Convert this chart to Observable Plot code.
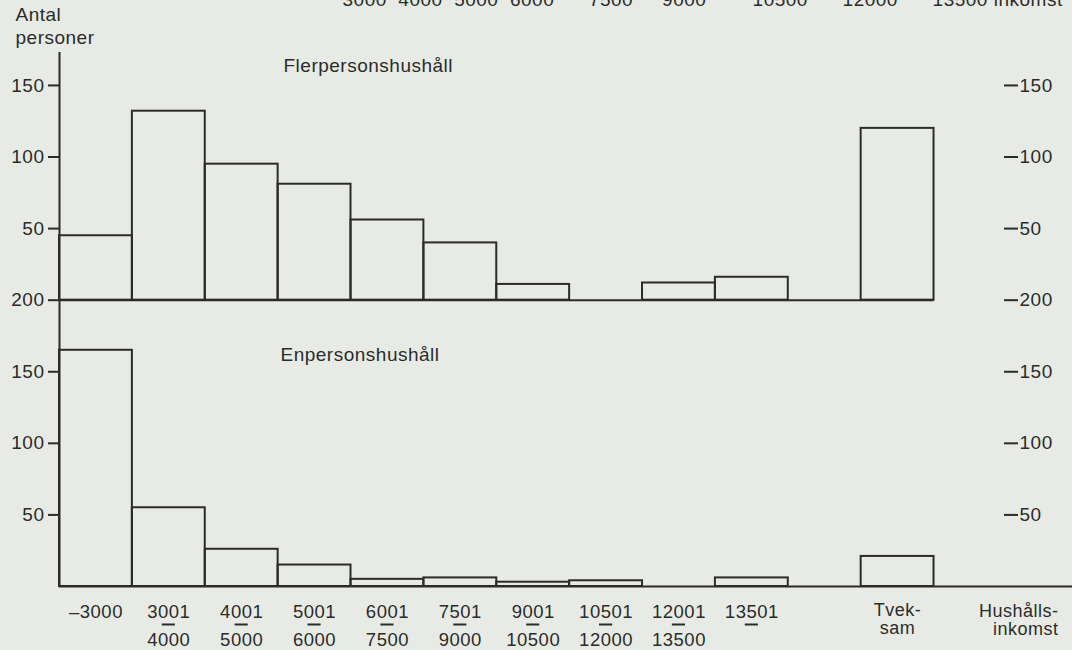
<!DOCTYPE html>
<html>
<head>
<meta charset="utf-8">
<script src="https://cdn.jsdelivr.net/npm/d3@7"></script>
<script src="https://cdn.jsdelivr.net/npm/@observablehq/plot@0.6"></script>
<style>
  html, body { margin: 0; padding: 0; background: #e8ebe5; }
  #chart { width: 1072px; height: 650px; overflow: hidden; }
  #chart svg { display: block; }
  #chart svg text { letter-spacing: 0.5px; }
</style>
</head>
<body>
<div id="chart"></div>
<script>
// ---- data ----
const incomeFrom = ["\u20133000", "3001", "4001", "5001", "6001", "7501", "9001", "10501", "12001", "13501"];
const incomeTo   = ["", "4000", "5000", "6000", "7500", "9000", "10500", "12000", "13500", ""];
const flerpersonshushall = [45, 132, 95, 81, 56, 40, 11, 0, 12, 16];
const enpersonshushall   = [165, 55, 26, 15, 5, 6, 3, 4, 0, 6];
const tveksamLabel = "Tvek-\nsam";
const tveksamFler = 120;
const tveksamEn = 21;
const bottomTicks = [50, 100, 150, 200];
const topTicks = [50, 100, 150];
const ghostText = "3000\u00a0\u00a04000\u00a0\u00a05000\u00a0\u00a06000\u00a0\u00a0\u00a0\u00a0\u00a0\u00a07500\u00a0\u00a0\u00a0\u00a0\u00a09000\u00a0\u00a0\u00a0\u00a0\u00a0\u00a0\u00a0\u00a010500\u00a0\u00a0\u00a0\u00a0\u00a0\u00a012000\u00a0\u00a0\u00a0\u00a0\u00a0\u00a013500 inkomst";

// ---- layout derived from data ----
const panelBase = 200;               // zero of the upper panel = 200 of the lower panel
const yMax = 373;
const tvSlot = incomeFrom.length + 1; // one empty slot before "Tveksam"
const ink = "#2b2b2b";

const slots = incomeFrom.map((from, i) => ({
  slot: i, from, to: incomeTo[i], fler: flerpersonshushall[i], en: enpersonshushall[i]
}));

const bars = [];
slots.forEach(d => {
  if (d.en > 0) bars.push({x1: d.slot, x2: d.slot + 1, y1: 0, y2: d.en});
  if (d.fler > 0) bars.push({x1: d.slot, x2: d.slot + 1, y1: panelBase, y2: panelBase + d.fler});
});
bars.push({x1: tvSlot, x2: tvSlot + 1, y1: 0, y2: tveksamEn});
bars.push({x1: tvSlot, x2: tvSlot + 1, y1: panelBase, y2: panelBase + tveksamFler});

const tickValues = bottomTicks.concat(topTicks.map(t => t + panelBase));
const fmt = d => String(d > panelBase ? d - panelBase : d);

const chart = Plot.plot({
  width: 1072,
  height: 650,
  marginLeft: 59,
  marginRight: 0,
  marginTop: 52,
  marginBottom: 64,
  x: {domain: [0, 13.9], axis: null},
  y: {domain: [0, yMax], axis: null},
  style: {background: "transparent", color: ink, fontFamily: "'Liberation Sans', Arial, sans-serif", fontSize: "18px"},
  marks: [
    // ghost text at the top edge of the scanned page
    Plot.text([ghostText], {frameAnchor: "top-left", textAnchor: "start", lineAnchor: "bottom", dx: 283, dy: -47, fontSize: 19, text: d => d}),
    // y-axis title
    Plot.text(["Antal\npersoner"], {frameAnchor: "top-left", textAnchor: "start", lineAnchor: "bottom", dx: -44, dy: -9, lineHeight: 1.17, fontSize: 19, text: d => d}),
    // panel titles
    Plot.text(["Flerpersonshushåll"], {frameAnchor: "top-left", textAnchor: "start", lineAnchor: "bottom", dx: 224, dy: 19, fontSize: 19, text: d => d}),
    Plot.text(["Enpersonshushåll"], {frameAnchor: "top-left", textAnchor: "start", lineAnchor: "bottom", dx: 221, dy: 308, fontSize: 19, text: d => d}),
    // bars
    Plot.rect(bars, {x1: "x1", x2: "x2", y1: "y1", y2: "y2", fill: "none", stroke: ink, strokeWidth: 2}),
    // baselines and left axis line
    Plot.ruleY([0], {stroke: ink, strokeWidth: 2}),
    Plot.ruleY([panelBase], {x1: 0, x2: tvSlot + 1, stroke: ink, strokeWidth: 2}),
    Plot.ruleX([0], {y1: 0, y2: yMax, stroke: ink, strokeWidth: 2}),
    // left axis
    Plot.axisY(tickValues, {anchor: "left", tickSize: 11, tickPadding: 4, tickFormat: fmt, fontSize: 19, strokeWidth: 2}),
    // right axis (dash + number)
    Plot.axisY(tickValues, {anchor: "right", dx: -69, tickSize: 14, tickPadding: 2, tickFormat: fmt, fontSize: 19, strokeWidth: 2}),
    // x labels: "from", short bar, "to"
    Plot.text(slots, {x: d => d.slot + 0.5, y: 0, text: "from", lineAnchor: "bottom", dy: 31, fontSize: 18.5}),
    Plot.ruleY(slots.filter(d => d.slot > 0), {y: 0, x1: d => d.slot + 0.41, x2: d => d.slot + 0.59, dy: 38, stroke: ink, strokeWidth: 2}),
    Plot.text(slots.filter(d => d.to), {x: d => d.slot + 0.5, y: 0, text: "to", lineAnchor: "bottom", dy: 59, fontSize: 18.5}),
    Plot.text([tveksamLabel], {x: tvSlot + 0.5, y: 0, text: d => d, lineAnchor: "bottom", lineHeight: 1.0, dy: 47, fontSize: 18}),
    Plot.text(["Hushålls-\ninkomst"], {frameAnchor: "bottom-right", textAnchor: "end", lineAnchor: "bottom", lineHeight: 1.0, dx: -14, dy: 48, fontSize: 18, text: d => d})
  ]
});
document.getElementById("chart").appendChild(chart);
</script>
</body>
</html>
